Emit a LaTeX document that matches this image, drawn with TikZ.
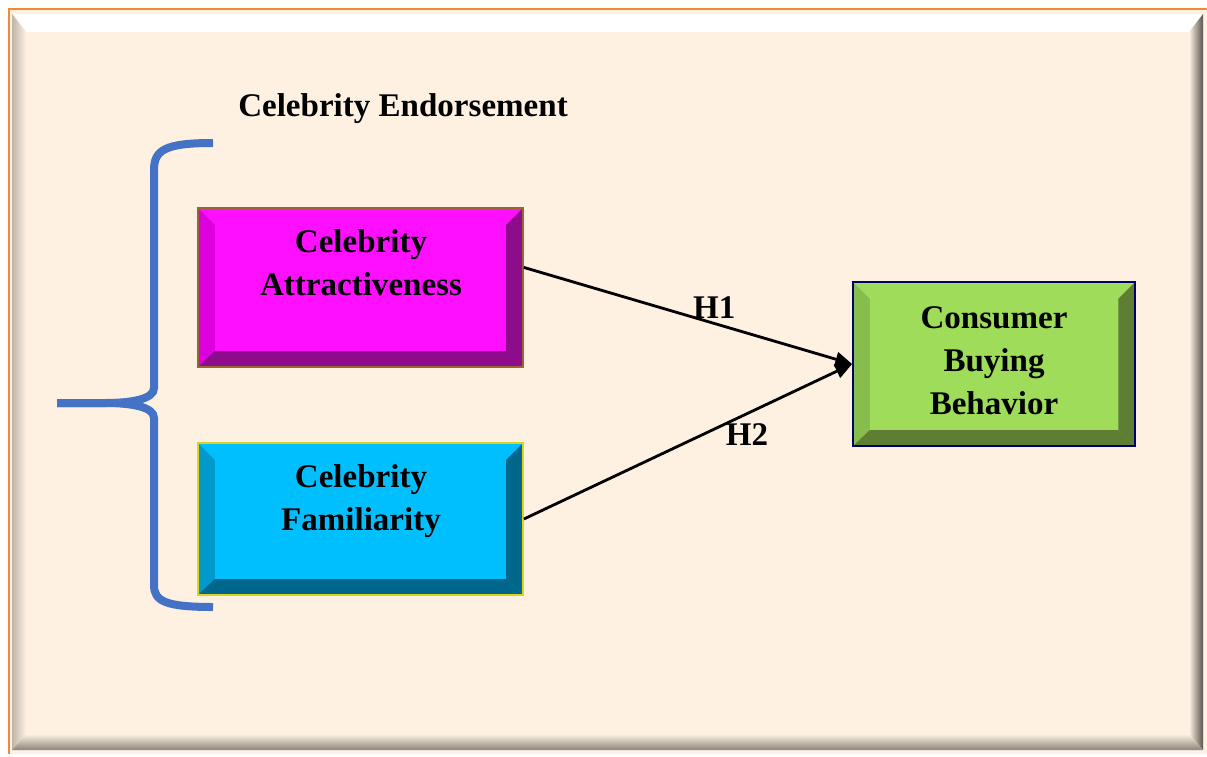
\documentclass[tikz,border=0pt]{standalone}
\usepackage{fontspec}
\setmainfont{Liberation Serif}
\usetikzlibrary{arrows.meta,calc}

\definecolor{panelbg}{HTML}{FEF1E2}
\definecolor{frameor}{HTML}{F0893A}
\definecolor{bracebl}{HTML}{4472C4}
\definecolor{magmain}{HTML}{FF0FFF}
\definecolor{magleft}{HTML}{DC00DC}
\definecolor{magdark}{HTML}{8C0C8C}
\definecolor{cyanmain}{HTML}{00BFFF}
\definecolor{cyanleft}{HTML}{0099CC}
\definecolor{cyandark}{HTML}{00678C}
\definecolor{grnmain}{HTML}{9EDC5A}
\definecolor{grnleft}{HTML}{86BD4C}
\definecolor{grndark}{HTML}{5E7F33}

\begin{document}
\begin{tikzpicture}[
  x=0.025cm, y=-0.025cm,
  bevel/.style n args={3}{
    rectangle, fill=#1, line width=1.2pt,
    path picture={
      \path (path picture bounding box.south west) coordinate (pSW)
            (path picture bounding box.north east) coordinate (pNE);
      \fill[#2] (pSW) -- (pSW|-pNE) -- ($(pSW|-pNE)+(0.42cm,-0.42cm)$)
                -- ($(pSW)+(0.42cm,0.4cm)$) -- cycle;
      \fill[#3] (pSW) -- (pNE|-pSW) -- ($(pNE|-pSW)+(-0.42cm,0.4cm)$)
                -- ($(pSW)+(0.42cm,0.4cm)$) -- cycle;
      \fill[#3] (pNE|-pSW) -- (pNE) -- ($(pNE)+(-0.42cm,-0.42cm)$)
                -- ($(pNE|-pSW)+(-0.42cm,0.4cm)$) -- cycle;
    }},
  txt/.style={align=center, font=\fontsize{23.5}{30.5}\selectfont\bfseries},
  hyp/.style={font=\fontsize{23.5}{28}\selectfont\bfseries},
  arr/.style={-{Triangle[length=0.42cm,width=0.36cm]}, line width=2pt},
  brace/.style={draw=bracebl, line width=0.2cm},
]
\useasboundingbox (0,0) rectangle (1207,756);

%% ---- Frame ----
\fill[panelbg] (8,8) rectangle (1207,754);
\fill[white] (14,14) -- (1203,14) -- (1189,32) -- (26,32) -- cycle;
\shade[left color=black!25!panelbg, right color=panelbg]
  (12,14) -- (26,32) -- (26,734) -- (12,750) -- cycle;
\shade[left color=panelbg, right color=black!65!panelbg]
  (1189,32) -- (1203,14) -- (1203,750) -- (1189,734) -- cycle;
\shade[top color=panelbg, bottom color=black!45!panelbg]
  (26,734) -- (1189,734) -- (1203,750) -- (12,750) -- cycle;
\draw[frameor, line width=2pt] (9,754) -- (9,9) -- (1207,9);

%% ---- Nodes ----
\node[bevel={magmain}{magleft}{magdark}, draw=brown!80!black,
      minimum width=8.125cm, minimum height=3.975cm] (attr) at (360.5,287.5) {};
\node[bevel={cyanmain}{cyanleft}{cyandark}, draw=yellow!85!black,
      minimum width=8.125cm, minimum height=3.8cm] (fam) at (360.5,519) {};
\node[bevel={grnmain}{grnleft}{grndark}, draw=blue!40!black,
      minimum width=7.05cm, minimum height=4.1cm] (cbb) at (994,364) {};

\node[txt] (attrtxt) at (361,263) {Celebrity\\Attractiveness};
\node[txt] (famtxt)  at (361,501) {Celebrity\\Familiarity};
\node[txt] (cbbtxt)  at (994,361) {Consumer\\Buying\\Behavior};

\node[txt] (title) at (403,109) {Celebrity Endorsement};

%% ---- Brace ----
\draw[brace] (213,143) .. controls (165,143) and (154,150) .. (154,170)
  -- (154,388) .. controls (154,399) and (132,403) .. (105,403) -- (57,403);
\draw[brace] (57,403) -- (105,403) .. controls (132,403) and (154,407) .. (154,418)
  -- (154,585) .. controls (154,601) and (165,607) .. (213,607);

%% ---- Hypotheses ----
\draw[arr] (attr.7) -- node[hyp, pos=0.58, above=-0.5pt] {H1} (cbb.west);
\draw[arr] (fam.east) -- node[hyp, pos=0.68, below=3pt] {H2} (cbb.west);

\end{tikzpicture}
\end{document}
